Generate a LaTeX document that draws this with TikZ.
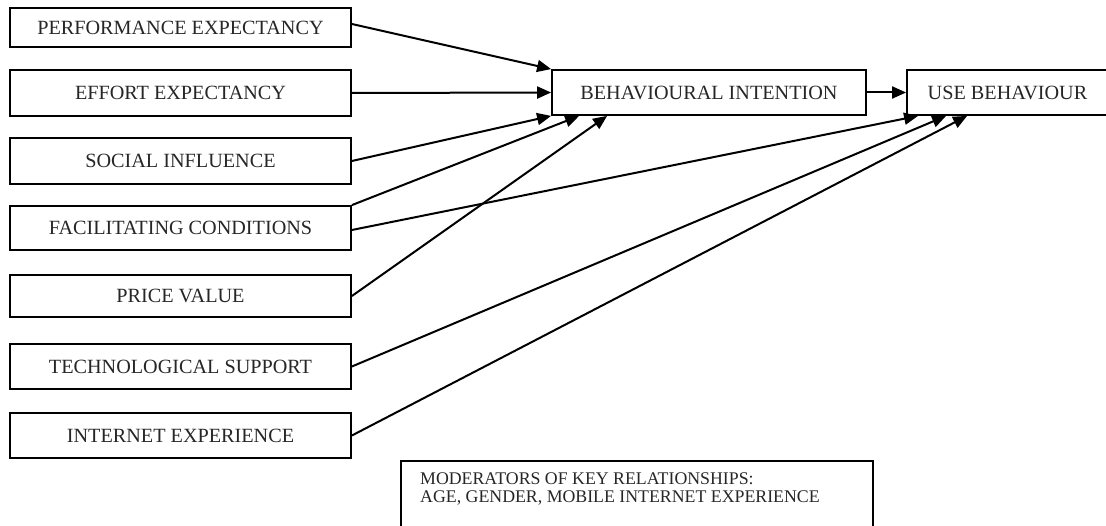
\documentclass[tikz,border=0pt]{standalone}
\usepackage{fontspec}
\setmainfont{Liberation Serif}
\usetikzlibrary{arrows.meta,calc}
\begin{document}
\begin{tikzpicture}[x=1pt,y=-1pt,
  box/.style={draw, line width=1.8pt, rectangle, inner sep=0pt, font=\fontsize{20.2}{23}\selectfont, text=black!85},
  lbox/.style={box, minimum width=341pt},
  arr/.style={line width=2pt, -{Triangle[length=14pt,width=12pt]}}]
\useasboundingbox (0,0) rectangle (1106,526);
\node[lbox, minimum height=39pt] (pe) at (180.5,27.5) {PERFORMANCE EXPECTANCY};
\node[lbox, minimum height=46pt] (ee) at (180.5,93) {EFFORT EXPECTANCY};
\node[lbox, minimum height=46pt] (si) at (180.5,161) {SOCIAL INFLUENCE};
\node[lbox, minimum height=44pt] (fc) at (180.5,228) {FACILITATING CONDITIONS};
\node[lbox, minimum height=42pt] (pv) at (180.5,296) {PRICE VALUE};
\node[lbox, minimum height=45pt] (ts) at (180.5,366.5) {TECHNOLOGICAL SUPPORT};
\node[lbox, minimum height=45pt] (ie) at (180.5,435.5) {INTERNET EXPERIENCE};
\node[box, minimum width=314pt, minimum height=45pt] (bi) at (709,92.5) {BEHAVIOURAL INTENTION};
\node[box, minimum width=201pt, minimum height=45pt] (ub) at (1007.5,92.5) {USE BEHAVIOUR};
\node[draw, line width=1.8pt, rectangle, inner sep=0pt, minimum width=472pt, minimum height=90pt, anchor=north west,
  label={[anchor=north west, align=left, inner sep=0pt, xshift=20pt, yshift=-13pt, text=black!85,
    font=\fontsize{17.8}{18}\selectfont]north west:{MODERATORS OF KEY RELATIONSHIPS:\\AGE, GENDER, MOBILE INTERNET EXPERIENCE}}]
  (mod) at (400,460) {};
\draw[arr] ($(pe.east)+(0,-3.5)$) -- (bi.north west);
\draw[arr] (ee.east) -- (bi.west);
\draw[arr] (si.east) -- (bi.south west);
\draw[arr] (fc.north east) -- ($(bi.south west)+(28,0)$);
\draw[arr] ($(fc.east)+(0,2)$) -- ($(ub.south west)+(12,0)$);
\draw[arr] (pv.east) -- ($(bi.south west)+(56,0)$);
\draw[arr] (ts.east) -- ($(ub.south west)+(40,0)$);
\draw[arr] (ie.east) -- ($(ub.south west)+(61,0)$);
\draw[arr] (bi.east) -- (ub.west);
\end{tikzpicture}
\end{document}
